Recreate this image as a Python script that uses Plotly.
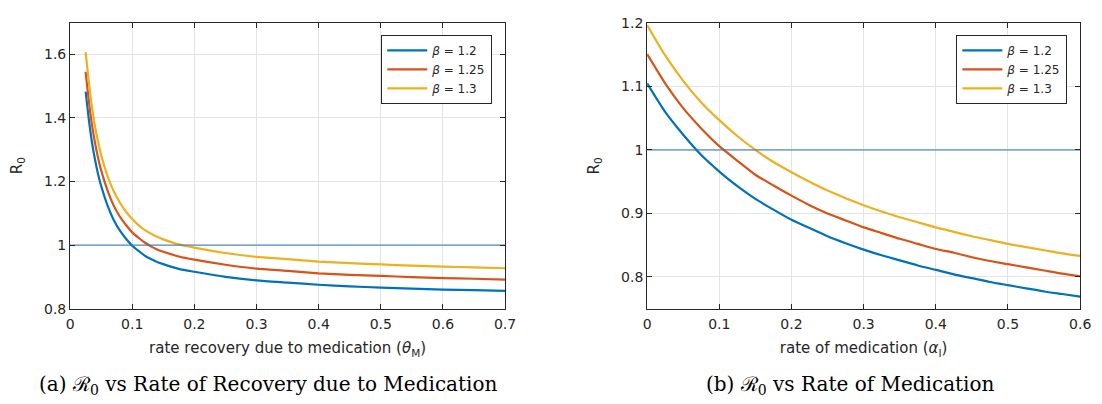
import plotly.graph_objects as go

# ---------------- data ----------------
theta_m = [0.025, 0.03, 0.035, 0.04, 0.045, 0.05, 0.06, 0.07, 0.08, 0.09, 0.1, 0.11, 0.12, 0.13,
           0.14, 0.15, 0.175, 0.2, 0.25, 0.3, 0.35, 0.4, 0.45, 0.5, 0.55, 0.6, 0.65, 0.7]
r0_theta_b120 = [1.483, 1.398, 1.326, 1.270, 1.224, 1.186, 1.126, 1.080, 1.046, 1.020, 0.998, 0.982,
                 0.967, 0.956, 0.947, 0.940, 0.925, 0.916, 0.900, 0.889, 0.882, 0.875, 0.870, 0.866,
                 0.863, 0.860, 0.858, 0.856]
r0_theta_b125 = [1.545, 1.456, 1.381, 1.323, 1.275, 1.235, 1.173, 1.125, 1.090, 1.063, 1.040, 1.023,
                 1.008, 0.996, 0.986, 0.979, 0.964, 0.954, 0.938, 0.926, 0.919, 0.911, 0.906, 0.903,
                 0.899, 0.896, 0.894, 0.891]
r0_theta_b130 = [1.607, 1.515, 1.437, 1.375, 1.326, 1.284, 1.219, 1.170, 1.134, 1.105, 1.082, 1.063,
                 1.048, 1.036, 1.026, 1.018, 1.002, 0.992, 0.975, 0.963, 0.956, 0.948, 0.943, 0.939,
                 0.935, 0.932, 0.930, 0.927]

alpha_i = [0, 0.025, 0.05, 0.075, 0.1, 0.125, 0.15, 0.175, 0.2, 0.225, 0.25, 0.275, 0.3,
           0.325, 0.35, 0.375, 0.4, 0.425, 0.45, 0.475, 0.5, 0.525, 0.55, 0.575, 0.6]
r0_alpha_b120 = [1.105, 1.060, 1.024, 0.992, 0.966, 0.943, 0.923, 0.906, 0.890, 0.877, 0.864, 0.853,
                 0.843, 0.834, 0.826, 0.818, 0.811, 0.804, 0.798, 0.792, 0.787, 0.782, 0.777, 0.773,
                 0.769]
r0_alpha_b125 = [1.151, 1.105, 1.066, 1.034, 1.006, 0.983, 0.961, 0.944, 0.928, 0.913, 0.900, 0.889,
                 0.878, 0.869, 0.860, 0.852, 0.844, 0.838, 0.831, 0.825, 0.820, 0.815, 0.810, 0.805,
                 0.801]
r0_alpha_b130 = [1.197, 1.149, 1.109, 1.075, 1.047, 1.022, 1.000, 0.981, 0.965, 0.950, 0.936, 0.924,
                 0.913, 0.903, 0.894, 0.886, 0.878, 0.871, 0.864, 0.858, 0.852, 0.847, 0.842, 0.837,
                 0.833]

series_names = ["<i>β</i> = 1.2", "<i>β</i> = 1.25", "<i>β</i> = 1.3"]
threshold_a_x = [0, 0.7]
threshold_b_x = [0, 0.6]
threshold_y = [1, 1]

xticks_a = [0, 0.1, 0.2, 0.3, 0.4, 0.5, 0.6, 0.7]
xtick_labels_a = ["0", "0.1", "0.2", "0.3", "0.4", "0.5", "0.6", "0.7"]
yticks_a = [0.8, 1.0, 1.2, 1.4, 1.6]
ytick_labels_a = ["0.8", "1", "1.2", "1.4", "1.6"]
xticks_b = [0, 0.1, 0.2, 0.3, 0.4, 0.5, 0.6]
xtick_labels_b = ["0", "0.1", "0.2", "0.3", "0.4", "0.5", "0.6"]
yticks_b = [0.8, 0.9, 1.0, 1.1, 1.2]
ytick_labels_b = ["0.8", "0.9", "1", "1.1", "1.2"]

caption_a = "(a) ℛ<sub>0</sub> vs Rate of Recovery due to Medication"
caption_b = "(b) ℛ<sub>0</sub> vs Rate of Medication"

# ---------------- styling ----------------
W, H = 1102, 404
colors = ["#0072BD", "#D95319", "#EDB120"]
ref_color = "#2a73b8"
ink = "#262626"
grid = "#e3e3e3"
sans = "DejaVu Sans, Liberation Sans, Arial, sans-serif"
serif = "DejaVu Serif, Liberation Serif, serif"

fig = go.Figure()

for name, ys, c in zip(series_names, [r0_theta_b120, r0_theta_b125, r0_theta_b130], colors):
    fig.add_trace(go.Scatter(x=theta_m, y=ys, mode="lines", name=name,
                             line=dict(color=c, width=2.2, shape="spline", smoothing=0.6),
                             xaxis="x", yaxis="y", legend="legend"))
fig.add_trace(go.Scatter(x=threshold_a_x, y=threshold_y, mode="lines", showlegend=False,
                         line=dict(color=ref_color, width=1), xaxis="x", yaxis="y"))

for name, ys, c in zip(series_names, [r0_alpha_b120, r0_alpha_b125, r0_alpha_b130], colors):
    fig.add_trace(go.Scatter(x=alpha_i, y=ys, mode="lines", name=name,
                             line=dict(color=c, width=2.2, shape="spline", smoothing=0.6),
                             xaxis="x2", yaxis="y2", legend="legend2"))
fig.add_trace(go.Scatter(x=threshold_b_x, y=threshold_y, mode="lines", showlegend=False,
                         line=dict(color=ref_color, width=1), xaxis="x2", yaxis="y2"))


def px_x(p):
    return p / W


def px_y(p):
    return 1 - p / H


axis_common = dict(showline=True, linecolor=ink, linewidth=1, mirror="ticks",
                   ticks="inside", ticklen=5, tickcolor=ink, tickwidth=1,
                   showgrid=True, gridcolor=grid, gridwidth=1, zeroline=False,
                   tickfont=dict(family=sans, size=14, color=ink))

title_font = dict(family=sans, size=15, color=ink)
ytitle_font = dict(family=sans, size=15, color=ink)
legend_font = dict(family=sans, size=12, color=ink)

fig.update_layout(
    width=W, height=H, autosize=False,
    margin=dict(l=0, r=0, t=0, b=0),
    paper_bgcolor="white", plot_bgcolor="white",
    showlegend=True,
    xaxis=dict(domain=[px_x(67), px_x(508)], range=[0, 0.7], anchor="y",
               tickvals=xticks_a, ticktext=xtick_labels_a, ticklabelstandoff=3,
               title=dict(text="rate recovery due to medication (<i>θ</i><sub>M</sub>)",
                          font=title_font, standoff=11),
               **axis_common),
    yaxis=dict(domain=[px_y(313), px_y(15.3)], range=[0.8, 1.7], anchor="x",
               tickvals=yticks_a, ticktext=ytick_labels_a,
               title=dict(text="R<sub>0</sub>", font=ytitle_font, standoff=17),
               **axis_common),
    xaxis2=dict(domain=[px_x(652), px_x(1091)], range=[0, 0.6], anchor="y2",
                tickvals=xticks_b, ticktext=xtick_labels_b, ticklabelstandoff=3,
                title=dict(text="rate of medication (<i>α</i><sub>I</sub>)",
                           font=title_font, standoff=11),
                **axis_common),
    yaxis2=dict(domain=[px_y(313), px_y(15.7)], range=[0.75, 1.2], anchor="x2",
                tickvals=yticks_b, ticktext=ytick_labels_b,
                title=dict(text="R<sub>0</sub>", font=ytitle_font, standoff=17),
                **axis_common),
    legend=dict(x=px_x(495), y=px_y(28), xanchor="right", yanchor="top",
                bgcolor="white", bordercolor=ink, borderwidth=1,
                font=legend_font, tracegroupgap=0, itemwidth=40),
    legend2=dict(x=px_x(1078), y=px_y(28), xanchor="right", yanchor="top",
                 bgcolor="white", bordercolor=ink, borderwidth=1,
                 font=legend_font, tracegroupgap=0, itemwidth=40),
    annotations=[
        dict(text=caption_a, x=px_x(268), y=px_y(393), xref="paper", yref="paper",
             xanchor="center", yanchor="middle", showarrow=False,
             font=dict(family=serif, size=20, color="black")),
        dict(text=caption_b, x=px_x(858), y=px_y(393), xref="paper", yref="paper",
             xanchor="center", yanchor="middle", showarrow=False,
             font=dict(family=serif, size=20, color="black")),
    ],
)

fig.write_html("out.html", config={"displayModeBar": False},
               post_script="document.body.style.margin='0';")
